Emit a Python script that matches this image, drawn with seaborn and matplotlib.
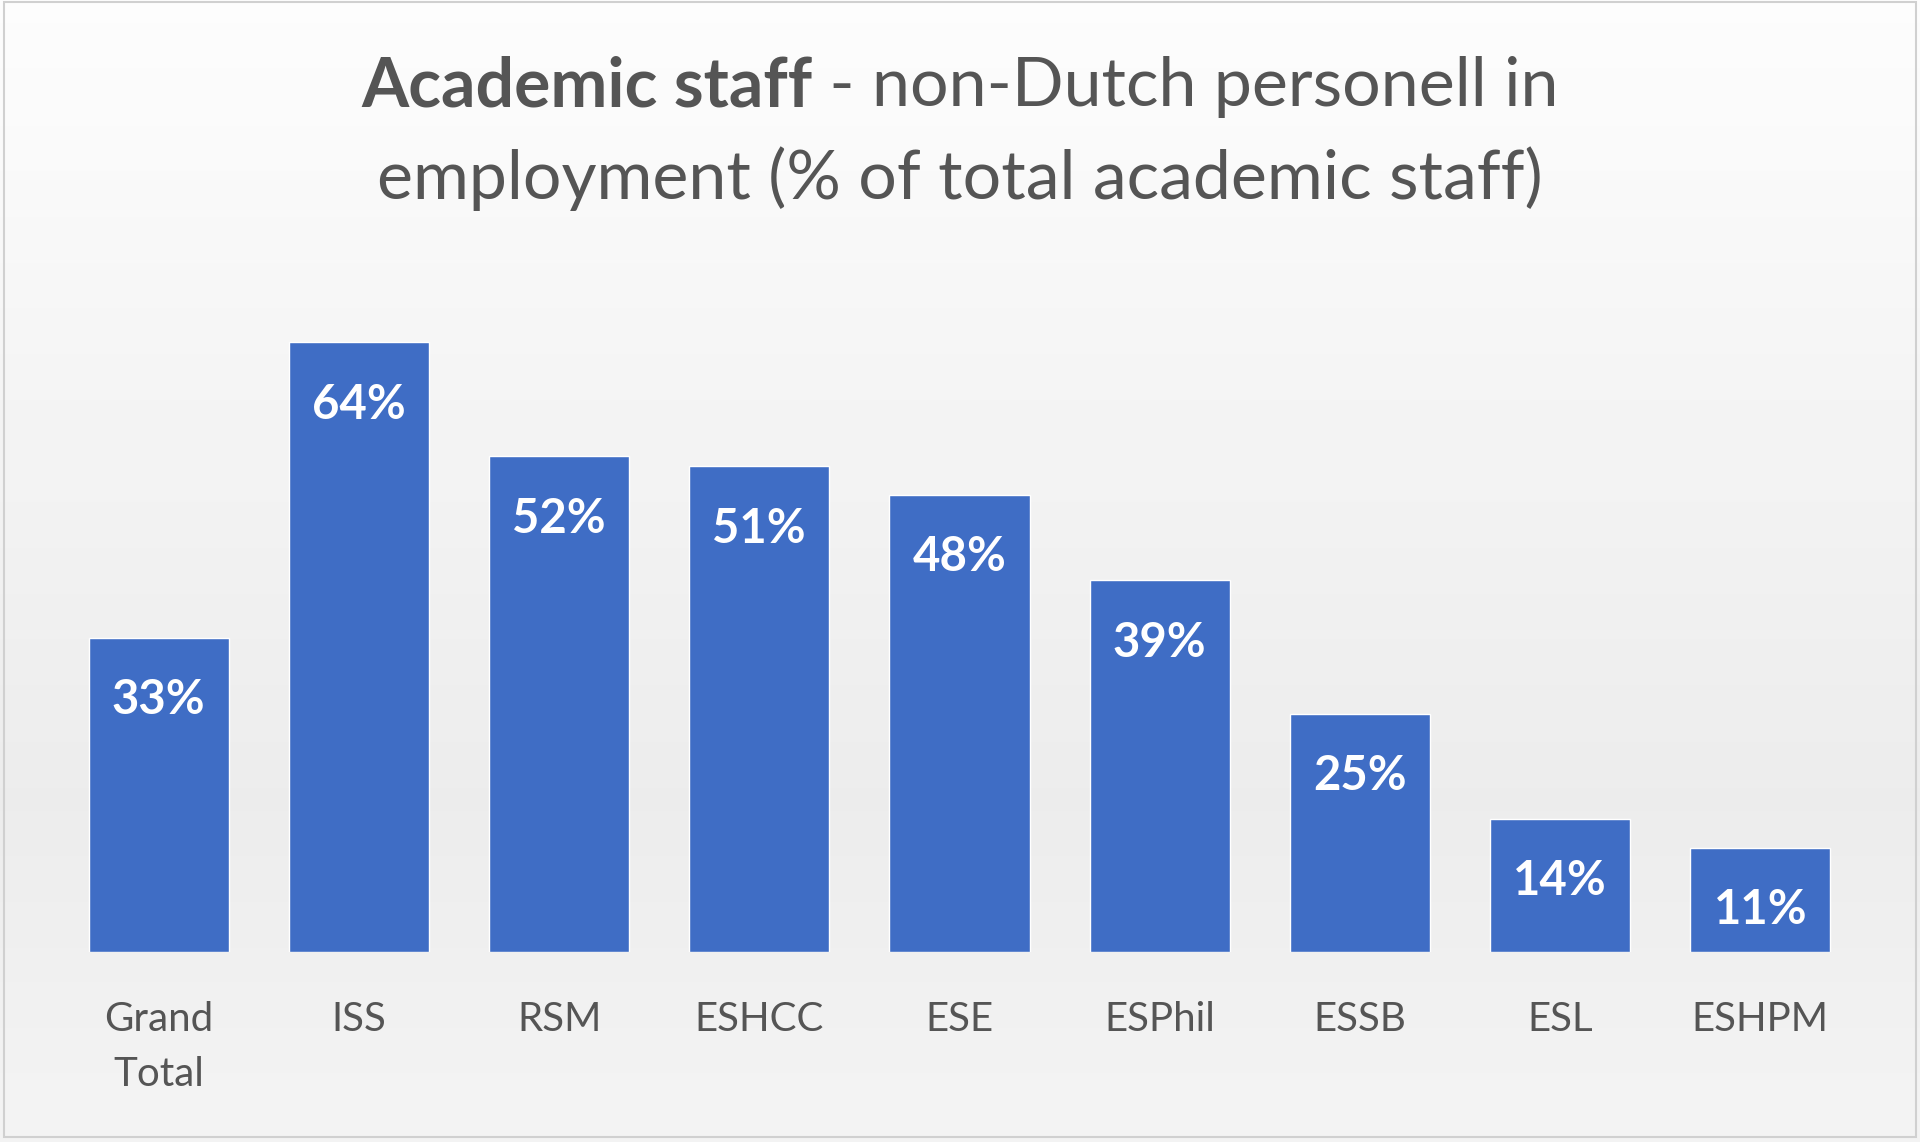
import numpy as np
import matplotlib.pyplot as plt
import seaborn as sns
from matplotlib.patches import Rectangle

# faculties and share of non-Dutch academic staff (%)
faculties = ["Grand\nTotal", "ISS", "RSM", "ESHCC", "ESE", "ESPhil", "ESSB", "ESL", "ESHPM"]
shares = [33, 64, 52, 51, 48, 39, 25, 14, 11]
value_labels = ["33%", "64%", "52%", "51%", "48%", "39%", "25%", "14%", "11%"]

title_bold = "Academic staff"
title_rest = " - non-Dutch personell in"
title_line2 = "employment (% of total academic staff)"

bar_color = "#3F6DC5"
text_grey = "#555555"

sns.set_style("white")
plt.rcParams["font.family"] = ["Lato", "DejaVu Sans"]

fig = plt.figure(figsize=(19.2, 11.42), dpi=100)
fig.patch.set_facecolor("#eeeeee")

# soft grey background gradient, like the office chart style
bg = fig.add_axes([0, 0, 1, 1], zorder=-10)
grad = np.concatenate([np.linspace(0.99, 0.925, 70), np.linspace(0.925, 0.955, 30)])
bg.imshow(grad.reshape(-1, 1), cmap="gray", vmin=0, vmax=1, aspect="auto",
          extent=[0, 1, 0, 1], origin="upper")
bg.set_axis_off()
fig.patches.append(Rectangle((0.002, 0.004), 0.996, 0.994, transform=fig.transFigure,
                             fill=False, edgecolor="#d0d0d0", linewidth=1.5))

ax = fig.add_axes([0.0305, 0.166, 0.9385, 0.5846])
ax.set_facecolor("none")
sns.barplot(x=faculties, y=shares, color=bar_color, saturation=1, width=0.7, ax=ax)

for patch, lab in zip(ax.patches, value_labels):
    ax.annotate(lab, (patch.get_x() + patch.get_width() / 2, patch.get_height()),
                xytext=(0, -45), textcoords="offset points", ha="center", va="center",
                color="white", fontsize=34, fontweight="bold")

ax.set_xlim(-0.5, 8.5)
ax.set_ylim(0, 70)
ax.set_yticks([])
ax.set_xlabel("")
ax.set_ylabel("")
sns.despine(ax=ax, left=True, bottom=True)
ax.tick_params(axis="x", length=0, pad=35, labelsize=29, labelcolor=text_grey)
for t in ax.get_xticklabels():
    t.set_verticalalignment("top")
    t.set_linespacing(1.6)

# title: bold first part, regular rest, centred as one line
t1 = fig.text(0.0, 0.924, title_bold, fontsize=49, fontweight="bold", color=text_grey,
              ha="left", va="center")
t2 = fig.text(0.0, 0.924, title_rest, fontsize=49, color=text_grey, ha="left", va="center")
fig.text(0.5, 0.844, title_line2, fontsize=49, color=text_grey, ha="center", va="center")
fig.canvas.draw()
r = fig.canvas.get_renderer()
w1 = t1.get_window_extent(r).width / fig.bbox.width
w2 = t2.get_window_extent(r).width / fig.bbox.width
x0 = 0.5 - (w1 + w2) / 2
t1.set_x(x0)
t2.set_x(x0 + w1)

fig.savefig("out.png", dpi=100, facecolor=fig.get_facecolor())
